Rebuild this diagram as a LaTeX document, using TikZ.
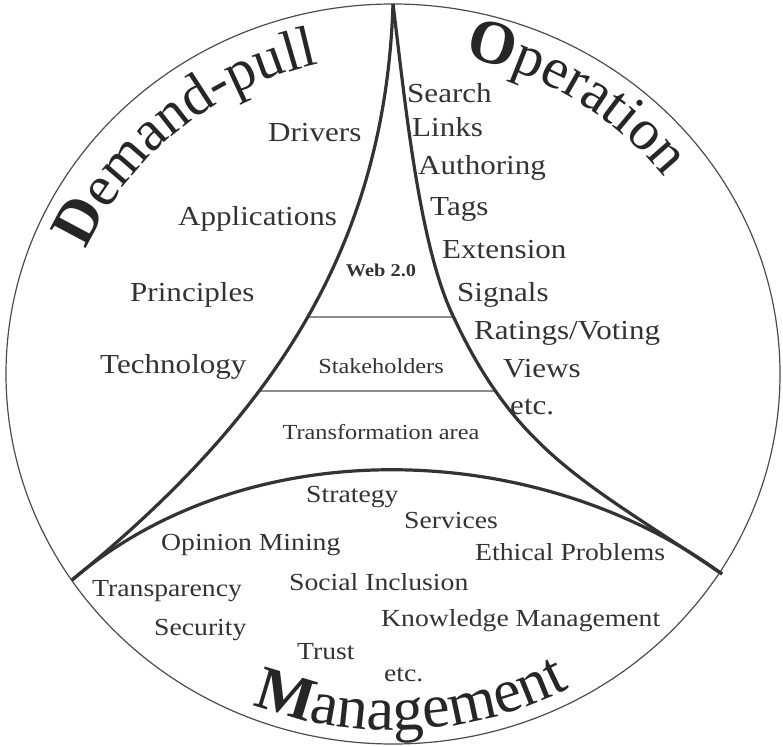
\documentclass[tikz,border=0pt]{standalone}
\usepackage{fontspec}
\setmainfont{Liberation Serif}
\newfontfamily\itemfont[FakeStretch=1.13]{Liberation Serif}
\usetikzlibrary{decorations.text}

% fonts for the three curved headings
\newcommand\headcap{\fontsize{62}{62}\selectfont\bfseries}
\newcommand\headrest{\fontsize{58}{58}\selectfont\mdseries}

\tikzset{
  rim/.style={line width=1.2pt, draw=black!70},
  border/.style={line width=3.2pt, draw=black!80},
  band/.style={line width=1.3pt, draw=black!45},
  term/.style={font=\itemfont\fontsize{27.5}{30}\selectfont, text=black!80, anchor=base west, inner sep=0pt},
  issue/.style={font=\itemfont\fontsize{24.5}{27}\selectfont, text=black!80, anchor=base west, inner sep=0pt},
  layer/.style={font=\itemfont\fontsize{21.5}{24}\selectfont, text=black!80, anchor=base, inner sep=0pt},
  heading/.style={decorate, decoration={text along path, text color=black!85, text={#1}}},
}

\begin{document}
\begin{tikzpicture}[x=1pt, y=1pt]
  \useasboundingbox (0,0) rectangle (783,-746);
  \coordinate (c) at (393,-374);
  \coordinate (top) at (393,-4);
  \coordinate (lcusp) at (72,-580);
  \coordinate (rcusp) at (722,-574);
  \coordinate (rmid) at (455,-320);

  % outer circle
  \draw[rim] (c) ellipse [x radius=387, y radius=370];

  % the two bands inside the web 2.0 wedge
  \begin{scope}
    \clip (top) .. controls (385,-254) and (266,-422) .. (lcusp)
          .. controls (250,-428) and (540,-440) .. (rcusp)
          .. controls (589,-484) and (518,-454) .. (rmid)
          .. controls (419,-249) and (405,-100) .. (top);
    \draw[band] (150,-317) -- (650,-317);
    \draw[band] (150,-391) -- (650,-391);
  \end{scope}

  % curved borders
  \draw[border] (top) .. controls (385,-254) and (266,-422) .. (lcusp);
  \draw[border] (top) .. controls (405,-100) and (419,-249) .. (rmid)
                .. controls (518,-454) and (589,-484) .. (rcusp);
  \draw[border] (lcusp) .. controls (250,-428) and (540,-440) .. (rcusp);

  % headings along the rim
  \path[heading={|\headcap|D|\headrest|emand-pull}]
    (c) ++(157:333 and 318) arc[start angle=157, end angle=70, x radius=333, y radius=318];
  \path[heading={|\headcap|O|\headrest|peration}]
    (c) ++(78:341 and 324) arc[start angle=78, end angle=10, x radius=341, y radius=324];
  \path[heading={|\headcap|M|\fontsize{62}{62}\selectfont\mdseries|anagement}]
    (c) ++(248:375 and 356) arc[start angle=248, end angle=320, x radius=375, y radius=356];

  % demand-pull side
  \node[term] (drivers) at (268,-142) {Drivers};
  \node[term] (apps) at (178,-225) {Applications};
  \node[term] (principles) at (130,-301) {Principles};
  \node[term] (technology) at (100,-373) {Technology};

  % operation side
  \node[term] (search) at (407,-103) {Search};
  \node[term] (links) at (412,-137) {Links};
  \node[term] (authoring) at (418,-175) {Authoring};
  \node[term] (tags) at (430,-215) {Tags};
  \node[term] (extension) at (442,-258) {Extension};
  \node[term] (signals) at (457,-301) {Signals};
  \node[term] (ratings) at (474,-339) {Ratings/Voting};
  \node[term] (views) at (503,-377) {Views};
  \node[term] (etcop) at (510,-414) {etc.};

  % wedge layers
  \node[layer, font=\itemfont\fontsize{18}{20}\selectfont\bfseries] (web) at (381,-276) {Web 2.0};
  \node[layer] (stake) at (381,-373) {Stakeholders};
  \node[layer] (transf) at (381,-439) {Transformation area};

  % management side
  \node[issue] (strategy) at (306,-502) {Strategy};
  \node[issue] (services) at (404,-528) {Services};
  \node[issue] (opinion) at (161,-550) {Opinion Mining};
  \node[issue] (ethical) at (475,-560) {Ethical Problems};
  \node[issue] (transp) at (92,-596) {Transparency};
  \node[issue] (social) at (289,-590) {Social Inclusion};
  \node[issue] (knowledge) at (381,-626) {Knowledge Management};
  \node[issue] (security) at (154,-635) {Security};
  \node[issue] (trust) at (297,-659) {Trust};
  \node[issue] (etcman) at (384,-681) {etc.};
\end{tikzpicture}
\end{document}
